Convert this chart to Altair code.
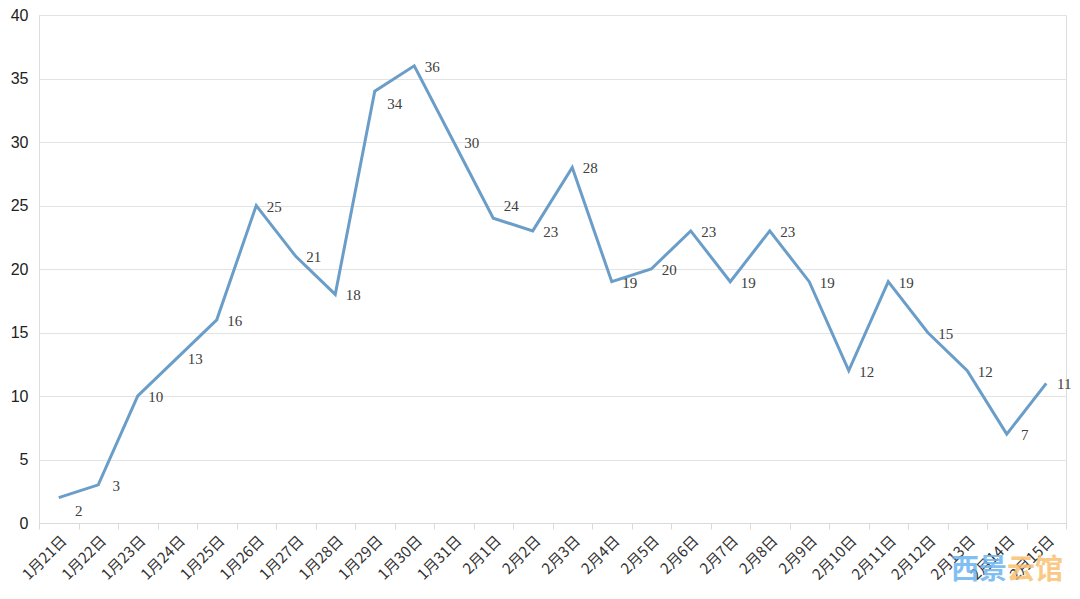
import altair as alt
import pandas as pd

dates = ["1月21日", "1月22日", "1月23日", "1月24日", "1月25日", "1月26日", "1月27日",
         "1月28日", "1月29日", "1月30日", "1月31日", "2月1日", "2月2日", "2月3日",
         "2月4日", "2月5日", "2月6日", "2月7日", "2月8日", "2月9日", "2月10日",
         "2月11日", "2月12日", "2月13日", "2月14日", "2月15日"]
values = [2, 3, 10, 13, 16, 25, 21, 18, 34, 36, 30, 24, 23, 28, 19, 20, 23, 19,
          23, 19, 12, 19, 15, 12, 7, 11]
below_labels = ["1月21日", "1月29日"]
above_labels = ["2月1日"]

df = pd.DataFrame({"date": dates, "value": values})
df["pos"] = ["below" if d in below_labels else ("above" if d in above_labels else "normal") for d in dates]

W, H = 1027, 508

x = alt.X("date:N", sort=dates, title=None,
          scale=alt.Scale(paddingInner=0, paddingOuter=0),
          axis=alt.Axis(labelAngle=-45, labelFont="Noto Sans CJK SC", labelFontSize=15,
                        labelColor="#333333", domainColor="#d9d9d9", tickColor="#d9d9d9",
                        tickSize=6, tickBand="extent", grid=False, labelPadding=4))
y = alt.Y("value:Q", title=None,
          scale=alt.Scale(domain=[0, 40], nice=False),
          axis=alt.Axis(values=[0, 5, 10, 15, 20, 25, 30, 35, 40], labelFont="Liberation Sans",
                        labelFontSize=16, labelColor="#222222", domain=False, ticks=False,
                        gridColor="#e3e3e3", labelPadding=11))

base = alt.Chart(df)

line = base.mark_line(color="#6a9ec8", strokeWidth=3).encode(x=x, y=y)

txt_style = dict(font="Liberation Serif", fontSize=15, color="#404040", align="center", baseline="middle")
labels_n = base.transform_filter(alt.datum.pos == "normal").mark_text(dx=18, dy=1, **txt_style).encode(
    x=x, y=y, text="value:Q")
labels_b = base.transform_filter(alt.datum.pos == "below").mark_text(dx=20, dy=13, **txt_style).encode(
    x=x, y=y, text="value:Q")
labels_a = base.transform_filter(alt.datum.pos == "above").mark_text(dx=18, dy=-12, **txt_style).encode(
    x=x, y=y, text="value:Q")

wm1 = alt.Chart(pd.DataFrame({"t": ["西景"]})).mark_text(
    font="Noto Sans CJK SC", fontWeight="bold", fontSize=28, color="#6cb4f0", opacity=0.85,
    align="left", baseline="middle").encode(x=alt.value(912), y=alt.value(556), text="t:N")
wm2 = alt.Chart(pd.DataFrame({"t": ["云馆"]})).mark_text(
    font="Noto Sans CJK SC", fontWeight="bold", fontSize=28, color="#f8c070", opacity=0.85,
    align="left", baseline="middle").encode(x=alt.value(968), y=alt.value(556), text="t:N")

chart = alt.layer(line, labels_n, labels_b, labels_a, wm1, wm2).properties(
    width=W, height=H,
    autosize=alt.AutoSizeParams(type="none"),
    padding={"left": 31, "top": 7, "right": 6, "bottom": 68},
).configure_view(stroke=None).configure(background="white")

chart.save("out.html", embed_options={"renderer": "svg", "actions": False})
